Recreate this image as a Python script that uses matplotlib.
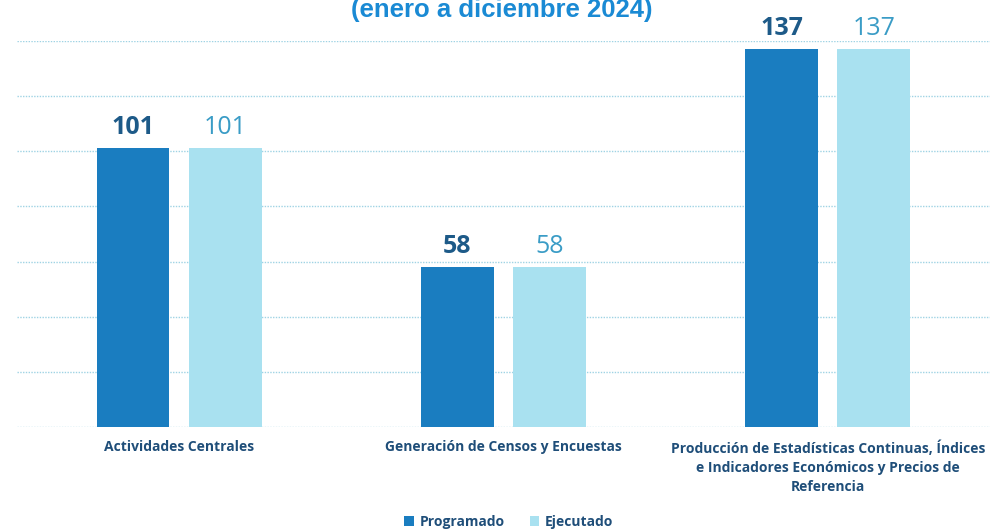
import numpy as np
import matplotlib.pyplot as plt


categories = ['Actividades Centrales',
              'Generación de Censos y Encuestas',
              'Producción de Estadísticas Continuas, Índices\ne Indicadores Económicos y Precios de\nReferencia']
programado = [101, 58, 137]
ejecutado = [101, 58, 137]
series_names = ['Programado', 'Ejecutado']

c_prog = '#1a7dc0'
c_ejec = '#a9e1f0'
txt_dark = '#1f4e79'

fig = plt.figure(figsize=(9.92, 5.3), dpi=100)
ax = fig.add_axes([0.017, 0.194, 0.981, 0.729])

x = np.arange(len(categories))
w = 0.225
off = 0.142

b1 = ax.bar(x - off, programado, w, color=c_prog, label=series_names[0], zorder=3)
b2 = ax.bar(x + off, ejecutado, w, color=c_ejec, label=series_names[1], zorder=3)

# value labels above bars
for rect, v in zip(b1, programado):
    ax.text(rect.get_x() + rect.get_width() / 2, v + 3, str(v), ha='center', va='bottom',
            fontsize=18, fontweight='bold', color='#1d5a88', family='Open Sans')
for rect, v in zip(b2, ejecutado):
    ax.text(rect.get_x() + rect.get_width() / 2, v + 3, str(v), ha='center', va='bottom',
            fontsize=18, color='#3a9cc6', family='Open Sans')

ax.set_xlim(-0.5, 2.5)
ax.set_ylim(0, 140)
ax.set_yticks(np.arange(0, 141, 20))
ax.yaxis.grid(True, color='#9fd3e4', linestyle=(0, (1, 1)), linewidth=1.0, zorder=0)
ax.tick_params(left=False, labelleft=False, bottom=False)
for s in ax.spines.values():
    s.set_visible(False)

ax.set_xticks(x)
ax.set_xticklabels(categories, fontsize=10, fontweight='bold', color=txt_dark,
                   family='Open Sans', linespacing=1.45)
ax.tick_params(axis='x', pad=6)

# title is partly cropped at the top, as in the scan
fig.text(0.506, 1 - 17 / 530, '(enero a diciembre 2024)', ha='center', va='baseline',
         fontsize=18.5, fontweight='bold', color='#1a8ad4', family='Liberation Sans')

fig.legend(handles=[b1, b2], labels=series_names, loc='center', bbox_to_anchor=(0.513, 0.015),
           ncol=2, frameon=False, handlelength=0.7, handleheight=0.7, columnspacing=1.8,
           handletextpad=0.4, prop={'family': 'Open Sans', 'weight': 'bold', 'size': 10},
           labelcolor=txt_dark)

fig.savefig('out.png', dpi=100)
